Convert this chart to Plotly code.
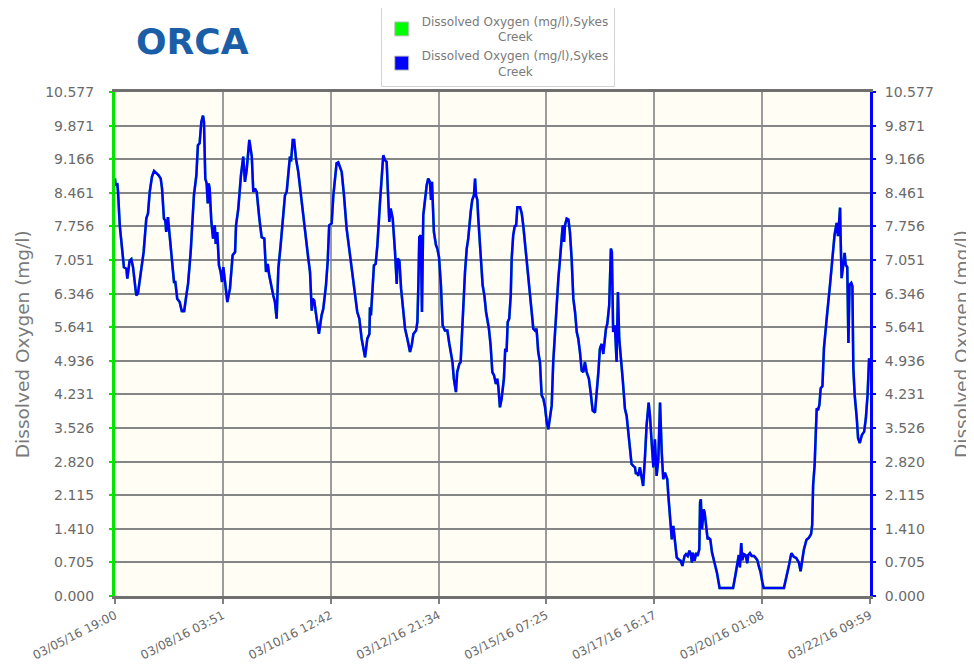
import plotly.graph_objects as go

# ---- data (hours since 03/05/16 19:00, dissolved oxygen mg/l) ----
hours = [
    0.0, 0.2, 1.2, 1.6, 2.5, 3.3, 4.7, 6.0, 6.5, 7.7,
    8.6, 9.5, 11.2, 12.1, 13.9, 15.1, 16.5, 17.4, 18.3, 19.5,
    20.6, 21.8, 23.0, 24.1, 24.8, 25.8, 26.5, 27.0, 27.9, 28.8,
    30.0, 31.1, 31.8, 32.8, 34.1, 35.3, 35.8, 36.4, 37.6, 38.5,
    39.9, 41.6, 42.9, 43.7, 44.6, 45.5, 46.4, 46.9, 47.6, 48.3,
    48.9, 49.4, 49.9, 50.8, 51.7, 52.6, 53.1, 53.9, 54.8, 55.7,
    56.4, 57.1, 58.0, 59.2, 60.6, 62.0, 63.3, 63.8, 65.0, 65.9,
    66.4, 67.6, 68.5, 69.4, 70.8, 72.1, 72.9, 73.8, 74.7, 76.1,
    77.3, 78.7, 79.6, 80.5, 81.3, 83.4, 84.3, 85.2, 86.1, 87.3,
    88.4, 89.6, 90.5, 91.4, 92.2, 92.8, 93.7, 94.4, 95.4, 96.6,
    98.4, 100.2, 101.9, 102.8, 103.7, 104.2, 105.0, 106.3, 107.5, 108.9,
    109.8, 111.2, 112.1, 112.9, 114.2, 115.1, 116.8, 117.7, 119.5, 120.7,
    122.1, 123.9, 125.6, 127.0, 127.7, 128.8, 130.0, 131.8, 133.0, 134.1,
    134.4, 134.9, 135.6, 136.5, 137.4, 138.3, 139.7, 140.6, 141.4, 142.3,
    143.2, 144.1, 144.6, 145.3, 146.4, 147.6, 148.5, 149.0, 149.9, 150.8,
    152.0, 152.9, 154.1, 155.5, 156.4, 157.3, 158.7, 159.4, 159.9, 160.4,
    161.2, 161.8, 162.5, 163.4, 164.3, 165.1, 166.0, 166.6, 167.1, 168.1,
    169.2, 169.9, 170.8, 171.8, 172.7, 173.9, 175.2, 176.2, 177.9, 178.6,
    179.7, 180.4, 181.5, 182.2, 183.3, 184.5, 185.4, 186.2, 187.5, 188.3,
    189.2, 189.8, 190.3, 191.0, 191.5, 192.4, 193.3, 193.8, 194.7, 195.6,
    197.1, 198.0, 198.9, 199.8, 200.8, 201.5, 202.1, 202.9, 203.8, 205.0,
    205.7, 206.4, 207.0, 207.8, 208.6, 209.1, 209.9, 210.8, 211.4, 212.1,
    213.5, 214.4, 215.2, 216.1, 217.3, 217.8, 219.1, 220.5, 221.4, 222.2,
    223.1, 224.0, 224.9, 225.8, 226.7, 227.6, 228.4, 229.3, 230.2, 231.0,
    231.9, 232.8, 233.7, 234.6, 235.5, 236.0, 236.7, 237.2, 238.1, 239.0,
    239.8, 240.7, 241.6, 242.5, 243.4, 244.2, 245.1, 246.0, 246.9, 247.7,
    248.6, 249.8, 250.7, 251.8, 253.0, 253.9, 254.8, 255.6, 256.5, 257.4,
    257.9, 258.8, 259.5, 260.5, 261.4, 261.9, 262.6, 263.5, 264.4, 265.1,
    265.8, 266.7, 267.6, 268.8, 269.7, 270.6, 271.5, 272.3, 273.2, 274.1,
    274.6, 275.3, 275.8, 276.7, 277.6, 278.4, 279.4, 280.2, 281.3, 282.0,
    282.9, 283.8, 284.6, 285.5, 286.4, 287.3, 288.2, 289.0, 289.9, 291.1,
    291.7, 292.6, 293.5, 294.3, 295.2, 296.1, 297.0, 298.2, 299.1, 300.2,
    301.0, 301.9, 302.8, 303.5, 304.1, 304.6, 305.5, 306.4, 307.1, 308.0,
    308.4, 308.8, 309.4, 310.3, 310.8, 311.7, 312.4, 312.9, 313.8, 314.7,
    315.9, 317.3, 318.7, 325.8, 327.1, 328.3, 328.8, 329.4, 330.1, 330.7,
    331.5, 332.4, 333.3, 333.8, 334.7, 335.6, 336.8, 337.7, 338.6, 339.4,
    340.3, 341.2, 341.9, 352.6, 354.0, 355.3, 356.5, 357.9, 359.1, 360.5,
    361.4, 362.4, 363.1, 364.5, 365.7, 366.9, 367.5, 368.0, 368.8, 369.3,
    369.9, 370.6, 371.3, 372.0, 372.9, 373.7, 374.6, 375.5, 376.9, 378.1,
    379.3, 380.4, 381.1, 381.6, 382.2, 382.5, 383.0, 383.9, 384.6, 385.2,
    386.0, 386.6, 387.2, 388.1, 388.7, 389.2, 389.9, 391.0, 391.7, 392.6,
    393.7, 394.9, 395.8, 396.7, 397.5,
]

do_mgl = [
    8.76, 8.62, 8.66, 8.48, 7.78, 7.43, 6.90, 6.87, 6.66, 7.04,
    7.07, 6.90, 6.31, 6.35, 6.94, 7.22, 7.92, 8.03, 8.48, 8.80,
    8.92, 8.87, 8.83, 8.76, 8.55, 7.92, 7.88, 7.64, 7.95, 7.57,
    7.08, 6.59, 6.59, 6.24, 6.17, 5.96, 6.01, 5.96, 6.31, 6.55,
    7.22, 8.41, 8.83, 9.46, 9.50, 9.95, 10.08, 9.95, 8.76, 8.66,
    8.24, 8.66, 8.55, 7.85, 7.50, 7.78, 7.39, 7.64, 6.94, 6.80,
    6.59, 6.90, 6.59, 6.17, 6.45, 7.15, 7.22, 7.78, 8.13, 8.62,
    8.83, 9.22, 8.69, 8.94, 9.57, 9.22, 8.48, 8.55, 8.48, 7.92,
    7.53, 7.50, 6.80, 6.97, 6.73, 6.31, 6.17, 5.82, 6.87, 7.36,
    7.85, 8.41, 8.48, 8.90, 9.22, 9.12, 9.57, 9.57, 9.18, 8.90,
    8.27, 7.57, 7.08, 6.80, 5.99, 6.24, 6.20, 5.82, 5.50, 5.89,
    6.03, 6.52, 7.01, 7.78, 7.82, 8.41, 9.08, 9.10, 8.90, 8.41,
    7.71, 7.15, 6.66, 6.24, 5.96, 5.82, 5.40, 5.01, 5.40, 5.50,
    6.06, 5.89, 6.38, 6.94, 6.97, 7.36, 8.27, 8.90, 9.25, 9.15,
    9.11, 8.27, 7.85, 8.13, 7.92, 7.22, 6.55, 7.08, 7.04, 6.45,
    5.96, 5.61, 5.40, 5.12, 5.26, 5.50, 5.57, 5.75, 6.52, 7.53,
    7.57, 5.96, 7.99, 8.34, 8.62, 8.76, 8.69, 8.31, 8.69, 7.64,
    7.36, 7.29, 7.11, 6.52, 5.68, 5.57, 5.57, 5.30, 4.91, 4.56,
    4.28, 4.70, 4.87, 4.91, 5.96, 6.80, 7.29, 7.50, 8.06, 8.31,
    8.41, 8.76, 8.41, 8.31, 7.92, 7.43, 6.94, 6.52, 6.31, 5.96,
    5.61, 5.26, 4.70, 4.63, 4.45, 4.56, 4.38, 3.96, 4.14, 4.56,
    5.19, 5.12, 5.75, 5.82, 6.31, 7.08, 7.57, 7.78, 7.75, 8.16,
    8.16, 8.03, 7.78, 7.43, 6.94, 6.66, 6.17, 5.61, 5.57, 5.61,
    5.12, 4.91, 4.21, 4.14, 3.96, 3.64, 3.50, 3.78, 4.00, 4.91,
    5.54, 5.96, 6.66, 7.08, 7.57, 7.78, 7.43, 7.78, 7.92, 7.90,
    7.64, 7.08, 6.24, 5.96, 5.54, 5.40, 5.12, 4.73, 4.70, 4.91,
    4.70, 4.56, 4.28, 3.89, 3.85, 4.21, 4.70, 5.19, 5.29, 5.08,
    5.29, 5.61, 5.71, 6.10, 7.29, 7.22, 5.54, 5.68, 4.91, 6.38,
    5.40, 5.05, 4.56, 3.93, 3.78, 3.43, 3.12, 2.77, 2.73, 2.70,
    2.56, 2.59, 2.52, 2.70, 2.49, 2.31, 2.94, 3.57, 4.06, 3.78,
    3.22, 2.70, 3.29, 2.52, 2.87, 4.06, 3.01, 2.45, 2.59, 2.45,
    2.10, 1.68, 1.19, 1.47, 1.19, 0.81, 0.77, 0.74, 0.63, 0.84,
    0.88, 0.84, 0.95, 0.88, 0.70, 0.91, 0.74, 0.91, 0.84, 0.98,
    1.96, 2.03, 1.40, 1.82, 1.75, 1.40, 1.19, 1.22, 1.19, 0.91,
    0.70, 0.49, 0.17, 0.17, 0.45, 0.70, 0.86, 0.60, 1.11, 0.75,
    0.88, 0.86, 0.69, 0.86, 0.90, 0.84, 0.84, 0.80, 0.75, 0.62,
    0.50, 0.30, 0.17, 0.17, 0.40, 0.65, 0.90, 0.82, 0.80, 0.70,
    0.52, 0.75, 0.97, 1.18, 1.22, 1.30, 1.49, 2.33, 2.75, 3.31,
    3.94, 3.90, 4.01, 4.36, 4.40, 5.20, 5.69, 5.97, 6.53, 7.09,
    7.58, 7.83, 7.55, 7.80, 8.15, 7.51, 6.67, 6.95, 7.20, 6.95,
    6.90, 5.31, 6.53, 6.57, 6.50, 4.78, 4.22, 3.73, 3.31, 3.21,
    3.38, 3.45, 3.73, 4.22, 4.99,
]
assert len(hours) == len(do_mgl)

span_hours = 397.98
x_tick_labels = ["03/05/16 19:00", "03/08/16 03:51", "03/10/16 12:42", "03/12/16 21:34",
                 "03/15/16 07:25", "03/17/16 16:17", "03/20/16 01:08", "03/22/16 09:59"]
x_tick_vals = [i * span_hours / 7 for i in range(len(x_tick_labels))]

y_max = 10.577
y_tick_labels = ["0.000", "0.705", "1.410", "2.115", "2.820", "3.526", "4.231", "4.936",
                 "5.641", "6.346", "7.051", "7.756", "8.461", "9.166", "9.871", "10.577"]
y_tick_vals = [i * y_max / 15 for i in range(len(y_tick_labels))]

series_name = "Dissolved Oxygen (mg/l),Sykes<br>" + "\u00a0" * 20 + "Creek"
axis_title = "Dissolved Oxygen (mg/l)"

FONT = "DejaVu Sans"
GRAY = "#6a6a6a"
GREEN = "#00e600"
BLUE = "#0000ff"

fig = go.Figure()

# legend-only entries (square swatches)
fig.add_trace(go.Scatter(x=[None], y=[None], mode="markers", name=series_name,
                         marker=dict(symbol="square", size=14, color="#00ff00",
                                     line=dict(color="#c0c0c0", width=1))))
fig.add_trace(go.Scatter(x=[None], y=[None], mode="markers", name=series_name,
                         marker=dict(symbol="square", size=14, color=BLUE,
                                     line=dict(color="#c0c0c0", width=1))))

# series on left and right axes
fig.add_trace(go.Scatter(x=hours, y=do_mgl, mode="lines", showlegend=False,
                         line=dict(color="#00ff00", width=2.5), yaxis="y"))
fig.add_trace(go.Scatter(x=hours, y=do_mgl, mode="lines", showlegend=False,
                         line=dict(color=BLUE, width=2.5), yaxis="y2"))

fig.update_layout(
    template="none",
    width=966, height=660, autosize=False,
    margin=dict(l=107, r=104, t=84, b=72, autoexpand=False),
    paper_bgcolor="white", plot_bgcolor="#fffdf4",
    font=dict(family=FONT, color=GRAY),
    xaxis=dict(range=[0, span_hours], tickmode="array", tickvals=x_tick_vals,
               ticktext=x_tick_labels, tickangle=-27, automargin=False,
               tickfont=dict(family=FONT, size=12, color=GRAY),
               showgrid=True, gridcolor="#9c9c9c", gridwidth=2,
               showline=True, linecolor="#707070", linewidth=3, mirror=True,
               ticks="outside", ticklen=5, tickcolor="#808080", tickwidth=1.5,
               zeroline=False),
    yaxis=dict(range=[0, y_max], tickmode="array", tickvals=y_tick_vals,
               ticktext=y_tick_labels, automargin=False,
               tickfont=dict(family=FONT, size=14, color=GRAY),
               showgrid=True, gridcolor="#858585", gridwidth=2,
               showline=True, linecolor=GREEN, linewidth=3,
               ticks="outside", ticklen=3, tickcolor=GREEN, tickwidth=1.5,
               ticklabelstandoff=12, zeroline=False),
    yaxis2=dict(range=[0, y_max], tickmode="array", tickvals=y_tick_vals,
                ticktext=y_tick_labels, overlaying="y", side="right", automargin=False,
                tickfont=dict(family=FONT, size=14, color=GRAY),
                showgrid=False, showline=True, linecolor=BLUE, linewidth=3,
                ticks="outside", ticklen=3, tickcolor=BLUE, tickwidth=1.5,
                ticklabelstandoff=6, zeroline=False),
    legend=dict(x=0.352, y=1.171, xanchor="left", yanchor="top",
                bgcolor="white", bordercolor="#d4d4d4", borderwidth=1,
                font=dict(family=FONT, size=12, color="#7a7a7a"),
                tracegroupgap=0),
    annotations=[
        dict(text=axis_title, xref="paper", yref="paper", x=-0.123, y=0.5,
             textangle=-90, showarrow=False, xanchor="center", yanchor="middle",
             font=dict(family=FONT, size=18.5, color="#7a7a7a")),
        dict(text=axis_title, xref="paper", yref="paper", x=1.1205, y=0.5,
             textangle=-90, showarrow=False, xanchor="center", yanchor="middle",
             font=dict(family=FONT, size=18.5, color="#7a7a7a")),
        dict(text="<b>ORCA</b>", xref="paper", yref="paper", x=0.1033, y=1.10,
             showarrow=False, xanchor="center", yanchor="middle",
             font=dict(family=FONT, size=36, color="#1a5ea8")),
    ],
)

fig.write_html("out.html")
